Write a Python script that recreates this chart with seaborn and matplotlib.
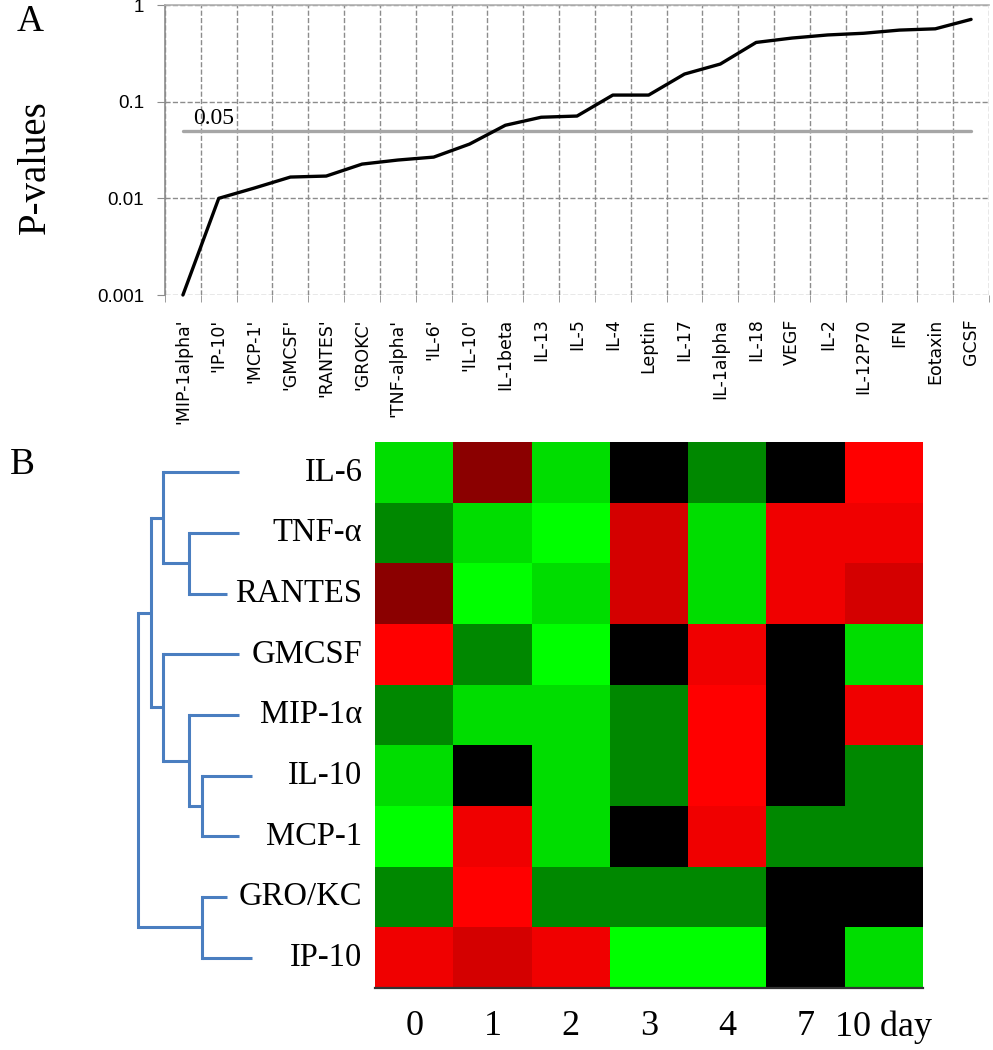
import numpy as np
import pandas as pd
import matplotlib
matplotlib.use('Agg')
import matplotlib.pyplot as plt
import seaborn as sns
from matplotlib.colors import ListedColormap
from matplotlib.ticker import NullLocator, FixedLocator

# --- dữ liệu panel A: p-values theo cytokine ---
cytokines_a = ["'MIP-1alpha'", "'IP-10'", "'MCP-1'", "'GMCSF'", "'RANTES'", "'GROKC'",
               "'TNF-alpha'", "'IL-6'", "'IL-10'", "IL-1beta", "IL-13", "IL-5", "IL-4",
               "Leptin", "IL-17", "IL-1alpha", "IL-18", "VEGF", "IL-2", "IL-12P70",
               "IFN", "Eotaxin", "GCSF"]
pvals = [0.001, 0.010, 0.0128, 0.0166, 0.0170, 0.0226, 0.0249, 0.0267, 0.0364,
         0.057, 0.069, 0.071, 0.117, 0.117, 0.193, 0.245, 0.41, 0.455, 0.49,
         0.51, 0.55, 0.567, 0.71]
cutoff = 0.05

# --- dữ liệu panel B: heatmap theo ngày ---
cytokines_b = ['IL-6', 'TNF-α', 'RANTES', 'GMCSF', 'MIP-1α', 'IL-10', 'MCP-1', 'GRO/KC', 'IP-10']
days = ['0', '1', '2', '3', '4', '7', '10 day']
levels = [
    [-2, 1, -2, 0, -1, 0, 4],
    [-1, -2, -3, 2, -2, 3, 3],
    [1, -3, -2, 2, -2, 3, 2],
    [4, -1, -3, 0, 3, 0, -2],
    [-1, -2, -2, -1, 4, 0, 3],
    [-2, 0, -2, -1, 4, 0, -1],
    [-3, 3, -2, 0, 3, -1, -1],
    [-1, 4, -1, -1, -1, 0, 0],
    [3, 2, 3, -3, -3, 0, -2],
]
# màu cho mức -3..4
level_colors = ['#00ff00', '#00dd00', '#008800', '#000000',
                '#8b0000', '#d40000', '#f00000', '#ff0000']

# --- cây phân cụm (dendrogram) ---
leaf_tip = [0, 0, 12, 0, 0, -13, 0, 12, -13]
merges = [(1, 2, 50), (0, 9, 76), (5, 6, 37), (4, 11, 50), (3, 12, 76),
          (10, 13, 88), (7, 8, 37), (14, 15, 101)]

sns.set_style('white')
plt.rcParams['font.family'] = ['DejaVu Sans']
plt.rcParams['text.color'] = 'black'
plt.rcParams['xtick.labelcolor'] = 'black'
plt.rcParams['ytick.labelcolor'] = 'black'
plt.rcParams['axes.labelcolor'] = 'black'
serif = 'Liberation Serif'

fig = plt.figure(figsize=(9.93, 10.5), dpi=100)
W, H = 993, 1050

# ================= PANEL A =================
ax1 = fig.add_axes([165 / W, 1 - 295 / H, 824 / W, 290 / H])
x = np.arange(len(pvals))
sns.lineplot(x=x, y=pvals, ax=ax1, color='black', lw=2.4, clip_on=False, zorder=5)
sns.lineplot(x=[x[0], x[-1]], y=[cutoff, cutoff], ax=ax1, color='#a6a6a6', lw=2.4, zorder=4)
ax1.text(0.28, cutoff * 1.04, '0.05', family=serif, fontsize=17, va='bottom', ha='left')

ax1.set_yscale('log')
ax1.set_ylim(0.001, 1)
ax1.set_xlim(-0.5, len(pvals) - 0.5)
ax1.set_yticks([0.001, 0.01, 0.1, 1])
ax1.set_yticklabels(['0.001', '0.01', '0.1', '1'], family='Liberation Sans', fontsize=13.5)
ax1.yaxis.set_minor_locator(NullLocator())
ax1.set_xticks(x)
ax1.set_xticklabels(cytokines_a, rotation=90, fontsize=12.5, va='top', ha='center')
ax1.xaxis.set_minor_locator(FixedLocator(np.arange(-0.5, len(pvals), 1)))
ax1.tick_params(axis='x', which='major', length=0, pad=17)
ax1.tick_params(axis='x', which='minor', length=5, color='#8c8c8c', bottom=True)
ax1.tick_params(axis='y', which='major', length=6, color='#8c8c8c', left=True, pad=9)
ax1.grid(which='minor', axis='x', ls='--', color='#8c8c8c', lw=1.0)
ax1.grid(which='major', axis='y', ls='--', color='#8c8c8c', lw=1.0)
ax1.grid(which='major', axis='x', visible=False)
for s in ['right', 'bottom']:
    ax1.spines[s].set_visible(False)
ax1.spines['left'].set_color('#8c8c8c')
ax1.spines['left'].set_linewidth(1.2)
ax1.spines['top'].set_color('#b0b0b0')
ax1.spines['top'].set_linewidth(1.2)
ax1.set_xlabel('')
ax1.set_ylabel('P-values', family=serif, fontsize=28)
ax1.yaxis.set_label_coords(-0.135, 0.44)

fig.text(30 / W, 1 - 22 / H, 'A', family=serif, fontsize=27, ha='center', va='center')
fig.text(22 / W, 1 - 465 / H, 'B', family=serif, fontsize=27, ha='center', va='center')

# ================= PANEL B =================
hm_rect = [375 / W, 1 - 988 / H, 548 / W, 546 / H]
ax2 = fig.add_axes(hm_rect)
df = pd.DataFrame(levels, index=cytokines_b, columns=days)
cmap = ListedColormap(level_colors)
sns.heatmap(df, ax=ax2, cmap=cmap, vmin=-3.5, vmax=4.5, cbar=False,
            xticklabels=days, yticklabels=cytokines_b)
ax2.set_yticklabels(cytokines_b, rotation=0, family=serif, fontsize=23.5, color='black')
ax2.set_xticklabels(days, rotation=0, family=serif, fontsize=26, color='black')
ax2.tick_params(axis='y', length=0, pad=9)
ax2.tick_params(axis='x', length=0, pad=16)
ax2.spines['bottom'].set_visible(True)
ax2.spines['bottom'].set_color('#333333')
ax2.spines['bottom'].set_linewidth(1.6)
ax2.set_xlabel('')
ax2.set_ylabel('')

# dendrogram bên trái
ax3 = fig.add_axes([100 / W, hm_rect[1], 275 / W, hm_rect[3]])
ax3.set_ylim(len(cytokines_b), 0)
ax3.set_xlim(139, -136)
ax3.axis('off')
pos = {i: (i + 0.5, leaf_tip[i]) for i in range(len(cytokines_b))}
blue = '#4a7ec0'
for k, (a, b, h) in enumerate(merges):
    ya, ha_ = pos[a]
    yb, hb = pos[b]
    ax3.plot([ha_, h], [ya, ya], color=blue, lw=2.2, solid_capstyle='butt')
    ax3.plot([hb, h], [yb, yb], color=blue, lw=2.2, solid_capstyle='butt')
    ax3.plot([h, h], [ya, yb], color=blue, lw=2.2, solid_capstyle='projecting')
    pos[len(cytokines_b) + k] = ((ya + yb) / 2, h)

fig.savefig('out.png', dpi=100)
